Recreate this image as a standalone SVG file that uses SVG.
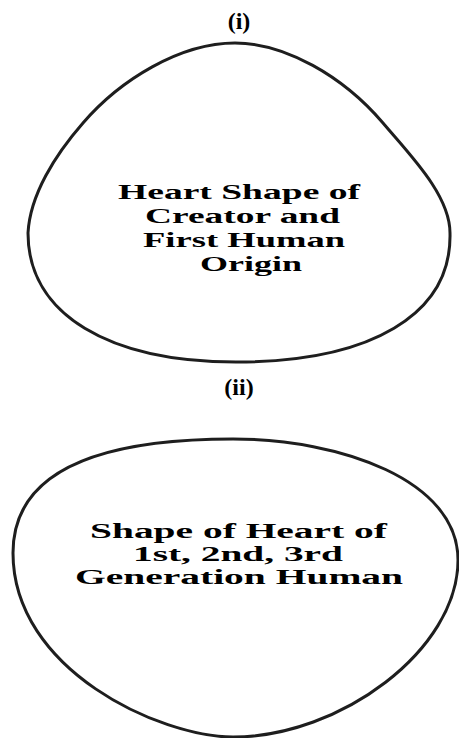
<svg xmlns="http://www.w3.org/2000/svg" width="459" height="738" viewBox="0 0 459 738">
<style>
.shape{fill:#fff;stroke:#1e1e1e;stroke-width:3}
.lbl{font-family:"Liberation Serif","Times New Roman",serif;font-weight:bold;font-size:24px;fill:#000;text-anchor:middle}
.txt{font-family:"Liberation Serif","Times New Roman",serif;font-weight:bold;font-size:21px;fill:#000}
.txt2{font-family:"Liberation Serif","Times New Roman",serif;font-weight:bold;font-size:20px;fill:#000}
</style>
<rect width="459" height="738" fill="#fff"/>
<g id="connectors"/>
<g id="node-i">
<text class="lbl" x="239" y="29">(i)</text>
<path class="shape" d="M235,43 C285,43 343,76 383,123 C410,155 450,195 450,233 C452,315 370,362 236,362 C110,362 28,315 28,233 C30,195 55,155 83,123 C120,80 180,43 235,43 Z"/>
<text class="txt" x="118" y="199" textLength="242" lengthAdjust="spacingAndGlyphs">Heart Shape of</text>
<text class="txt" x="145" y="223" textLength="195" lengthAdjust="spacingAndGlyphs">Creator and</text>
<text class="txt" x="143" y="247" textLength="202" lengthAdjust="spacingAndGlyphs">First Human</text>
<text class="txt" x="200" y="271" textLength="102" lengthAdjust="spacingAndGlyphs">Origin</text>
</g>
<g id="node-ii">
<text class="lbl" x="239" y="395">(ii)</text>
<path class="shape" d="M233,439 C340,439 458,480 458,560 C458,650 340,737 233,737 C160,737 13,670 13,553 C13,470 100,439 233,439 Z"/>
<text class="txt2" x="90" y="538" textLength="297" lengthAdjust="spacingAndGlyphs">Shape of Heart of</text>
<text class="txt2" x="133" y="561" textLength="210" lengthAdjust="spacingAndGlyphs">1st, 2nd, 3rd</text>
<text class="txt2" x="75" y="584" textLength="328" lengthAdjust="spacingAndGlyphs">Generation Human</text>
</g>
</svg>
